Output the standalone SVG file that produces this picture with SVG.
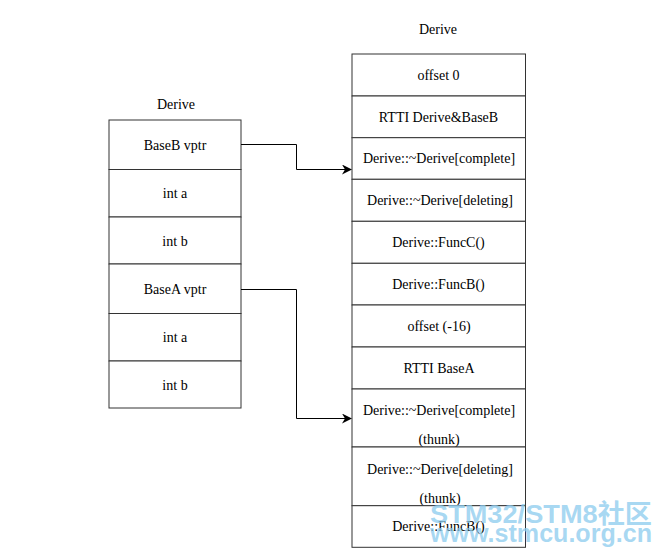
<svg xmlns="http://www.w3.org/2000/svg" width="662" height="559" viewBox="0 0 662 559">
<style>
.cell{fill:#fff;stroke:#333;stroke-width:1}
.t{font-family:"Liberation Serif","DejaVu Serif",serif;font-size:14px;fill:#000;text-anchor:middle;dominant-baseline:central}
.c{fill:none;stroke:#000;stroke-width:1}
.wm{font-family:"Liberation Sans","Noto Sans CJK SC",sans-serif;font-weight:bold;fill:#8ccbee;fill-opacity:0.75}
</style>
<defs>
<marker id="arr" viewBox="0 0 10 10" refX="9" refY="5" markerWidth="10" markerHeight="10" markerUnits="userSpaceOnUse" orient="auto">
<path d="M0,0 L10,5 L0,10 L3,5 Z" fill="#000"/>
</marker>
</defs>
<rect width="662" height="559" fill="#fff"/>
<g id="left-title"><text class="t" x="176" y="104">Derive</text></g>
<g id="left-table">
<g id="l1"><rect class="cell" x="109" y="120" width="132" height="49.5"/><text class="t" x="175" y="145">BaseB vptr</text></g>
<g id="l2"><rect class="cell" x="109" y="169.5" width="132" height="47.5"/><text class="t" x="175" y="193">int a</text></g>
<g id="l3"><rect class="cell" x="109" y="217" width="132" height="47"/><text class="t" x="175" y="241">int b</text></g>
<g id="l4"><rect class="cell" x="109" y="264" width="132" height="49.5"/><text class="t" x="175" y="289">BaseA vptr</text></g>
<g id="l5"><rect class="cell" x="109" y="313.5" width="132" height="47.5"/><text class="t" x="175" y="337">int a</text></g>
<g id="l6"><rect class="cell" x="109" y="361" width="132" height="47"/><text class="t" x="175" y="385">int b</text></g>
</g>
<g id="right-title"><text class="t" x="438" y="29">Derive</text></g>
<g id="right-table">
<g id="r1"><rect class="cell" x="352" y="54" width="173.5" height="42"/><text class="t" x="438.5" y="75">offset 0</text></g>
<g id="r2"><rect class="cell" x="352" y="96" width="173.5" height="41.7"/><text class="t" x="438.5" y="117">RTTI Derive&amp;BaseB</text></g>
<g id="r3"><rect class="cell" x="352" y="137.7" width="173.5" height="41.6"/><text class="t" x="439" y="158.5">Derive::~Derive[complete]</text></g>
<g id="r4"><rect class="cell" x="352" y="179.3" width="173.5" height="42"/><text class="t" x="440" y="200.5">Derive::~Derive[deleting]</text></g>
<g id="r5"><rect class="cell" x="352" y="221.3" width="173.5" height="42"/><text class="t" x="438.5" y="242">Derive::FuncC()</text></g>
<g id="r6"><rect class="cell" x="352" y="263.3" width="173.5" height="41.7"/><text class="t" x="438.5" y="284">Derive::FuncB()</text></g>
<g id="r7"><rect class="cell" x="352" y="305" width="173.5" height="42"/><text class="t" x="439" y="326">offset (-16)</text></g>
<g id="r8"><rect class="cell" x="352" y="347" width="173.5" height="42"/><text class="t" x="439" y="368">RTTI BaseA</text></g>
<g id="r9"><rect class="cell" x="352" y="389" width="173.5" height="58"/><text class="t" x="439" y="410">Derive::~Derive[complete]</text><text class="t" x="439" y="439">(thunk)</text></g>
<g id="r10"><rect class="cell" x="352" y="447" width="173.5" height="58.7"/><text class="t" x="440" y="469">Derive::~Derive[deleting]</text><text class="t" x="440" y="498">(thunk)</text></g>
<g id="r11"><rect class="cell" x="352" y="505.7" width="173.5" height="41.6"/><text class="t" x="438.5" y="526.5">Derive::FuncB()</text></g>
</g>
<g id="connectors">
<path class="c" d="M241,144.5 H296.5 V169.5 H351" marker-end="url(#arr)"/>
<path class="c" d="M241,289.5 H296.5 V418.5 H351" marker-end="url(#arr)"/>
</g>
<g id="watermark">
<text class="wm" x="430" y="523" font-size="26" textLength="222" lengthAdjust="spacingAndGlyphs">STM32/STM8社区</text>
<text class="wm" x="430" y="542" font-size="26" textLength="222" lengthAdjust="spacingAndGlyphs">www.stmcu.org.cn</text>
</g>
</svg>
